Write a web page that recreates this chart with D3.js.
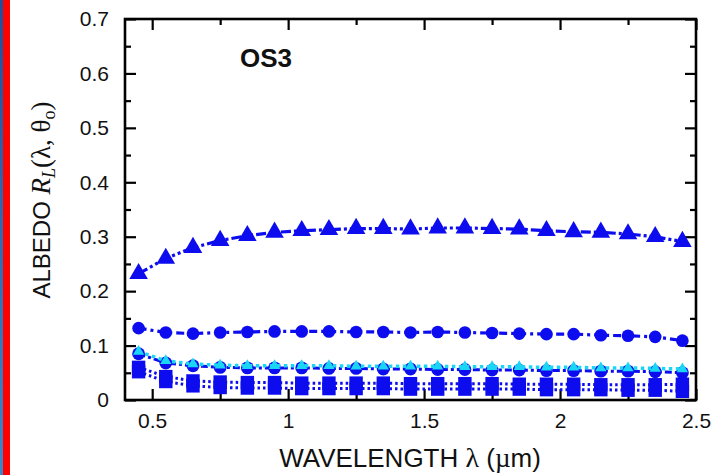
<!DOCTYPE html>
<html>
<head>
<meta charset="utf-8">
<script src="https://cdn.jsdelivr.net/npm/d3@7"></script>
<style>
  html, body { margin: 0; padding: 0; background: #fff; }
  svg { display: block; }
</style>
</head>
<body>
<svg id="chart" width="716" height="475"></svg>
<script>
// Wavelength grid (µm)
const wavelengths = [0.45, 0.55, 0.65, 0.75, 0.85, 0.95, 1.05, 1.15, 1.25, 1.35, 1.45,
                     1.55, 1.65, 1.75, 1.85, 1.95, 2.05, 2.15, 2.25, 2.35, 2.45];

// Albedo curves
const albedoTriangles = [0.232, 0.260, 0.280, 0.293, 0.302, 0.308, 0.311, 0.313, 0.315, 0.315, 0.314,
                         0.316, 0.316, 0.315, 0.314, 0.311, 0.309, 0.308, 0.305, 0.300, 0.291];
const albedoCirclesHigh = [0.132, 0.124, 0.122, 0.124, 0.125, 0.126, 0.126, 0.126, 0.125, 0.125, 0.124,
                           0.125, 0.124, 0.123, 0.122, 0.121, 0.121, 0.119, 0.118, 0.116, 0.109];
const albedoCirclesLow = [0.085, 0.068, 0.063, 0.060, 0.059, 0.059, 0.059, 0.058, 0.058, 0.057, 0.057,
                          0.056, 0.056, 0.055, 0.055, 0.054, 0.054, 0.053, 0.053, 0.052, 0.050];
const albedoCyan = [0.089, 0.072, 0.066, 0.064, 0.063, 0.063, 0.063, 0.063, 0.062, 0.062, 0.062,
                    0.062, 0.061, 0.061, 0.061, 0.060, 0.060, 0.059, 0.059, 0.058, 0.057];
const albedoSquaresHigh = [0.060, 0.043, 0.035, 0.033, 0.032, 0.032, 0.031, 0.031, 0.031, 0.031, 0.030,
                           0.030, 0.030, 0.030, 0.029, 0.029, 0.029, 0.028, 0.028, 0.028, 0.029];
const albedoSquaresLow = [0.052, 0.034, 0.026, 0.023, 0.022, 0.022, 0.021, 0.021, 0.021, 0.021, 0.020,
                          0.020, 0.020, 0.020, 0.020, 0.019, 0.019, 0.019, 0.018, 0.018, 0.016];

// Axis ticks
const xMajorTicks = [0.5, 1, 1.5, 2, 2.5];
const xMinorTicks = [0.75, 1.25, 1.75, 2.25];
const yMajorTicks = [0, 0.1, 0.2, 0.3, 0.4, 0.5, 0.6, 0.7];
const yMinorTicks = [0.05, 0.15, 0.25, 0.35, 0.45, 0.55, 0.65];

const BLUE = "#0c0cef";
const CYAN = "#1ad6f4";

const svg = d3.select("#chart");

// Decorative side strips
const grad = svg.append("defs").append("linearGradient")
  .attr("id", "edge").attr("x1", 0).attr("y1", 0).attr("x2", 0).attr("y2", 1);
grad.append("stop").attr("offset", "0%").attr("stop-color", "#1f4f9a");
grad.append("stop").attr("offset", "100%").attr("stop-color", "#3d86c6");
svg.append("rect").attr("x", 0).attr("y", 0).attr("width", 3).attr("height", 475).attr("fill", "url(#edge)");
svg.append("rect").attr("x", 3).attr("y", 0).attr("width", 7).attr("height", 475).attr("fill", "#ff0000");

const plotLeft = 125, plotRight = 696, plotTop = 19, plotBottom = 400;
const x = d3.scaleLinear().domain([0.4, 2.5]).range([plotLeft, plotRight]);
const y = d3.scaleLinear().domain([0, 0.7]).range([plotBottom, plotTop]);

const fontSans = "'Liberation Sans', Arial, Helvetica, sans-serif";
const fontSerif = "'Liberation Serif', 'Times New Roman', serif";

// Axes: ticks point inward on all four sides
function styleAxis(g) {
  g.select(".domain").remove();
  g.selectAll(".tick line").attr("stroke", "#000").attr("stroke-width", 2.2);
  g.selectAll(".tick text").attr("font-family", fontSans).attr("font-size", 21).attr("fill", "#111");
}

svg.append("g").attr("transform", `translate(0,${plotBottom})`)
  .call(d3.axisBottom(x).tickValues(xMajorTicks).tickSize(-11).tickPadding(13).tickFormat(d3.format("")))
  .call(styleAxis);
svg.append("g").attr("transform", `translate(0,${plotBottom})`)
  .call(d3.axisBottom(x).tickValues(xMinorTicks).tickSize(-6).tickFormat(""))
  .call(styleAxis);
svg.append("g").attr("transform", `translate(0,${plotTop})`)
  .call(d3.axisTop(x).tickValues(xMajorTicks).tickSize(-11).tickFormat(""))
  .call(styleAxis);
svg.append("g").attr("transform", `translate(0,${plotTop})`)
  .call(d3.axisTop(x).tickValues(xMinorTicks).tickSize(-6).tickFormat(""))
  .call(styleAxis);

svg.append("g").attr("transform", `translate(${plotLeft},0)`)
  .call(d3.axisLeft(y).tickValues(yMajorTicks).tickSize(-11).tickPadding(16).tickFormat(d3.format("")))
  .call(styleAxis);
svg.append("g").attr("transform", `translate(${plotLeft},0)`)
  .call(d3.axisLeft(y).tickValues(yMinorTicks).tickSize(-6).tickFormat(""))
  .call(styleAxis);
svg.append("g").attr("transform", `translate(${plotRight},0)`)
  .call(d3.axisRight(y).tickValues(yMajorTicks).tickSize(-11).tickFormat(""))
  .call(styleAxis);
svg.append("g").attr("transform", `translate(${plotRight},0)`)
  .call(d3.axisRight(y).tickValues(yMinorTicks).tickSize(-6).tickFormat(""))
  .call(styleAxis);

// Curves
const series = [
  { values: albedoSquaresLow,  color: BLUE, dash: "2.5,3",            width: 3,   symbol: d3.symbolSquare,   size: 180 },
  { values: albedoSquaresHigh, color: BLUE, dash: "2.5,3",            width: 3,   symbol: d3.symbolSquare,   size: 180 },
  { values: albedoCirclesLow,  color: BLUE, dash: "7,3,3,3",          width: 3,   symbol: d3.symbolCircle,   size: 130 },
  { values: albedoCyan,        color: CYAN, dash: "3.5,3.5",          width: 3.5, symbol: d3.symbolTriangle, size: 55 },
  { values: albedoCirclesHigh, color: BLUE, dash: "8,4,3,4",          width: 3.2, symbol: d3.symbolCircle,   size: 125 },
  { values: albedoTriangles,   color: BLUE, dash: "10,3,3,3,3,3",     width: 3.2, symbol: d3.symbolTriangle, size: 150 }
];

const line = d3.line().x(d => x(d[0])).y(d => y(d[1]));
const plot = svg.append("g");

series.forEach(s => {
  const pts = wavelengths.map((w, i) => [w, s.values[i]]);
  plot.append("path")
    .attr("d", line(pts))
    .attr("fill", "none")
    .attr("stroke", s.color)
    .attr("stroke-width", s.width)
    .attr("stroke-dasharray", s.dash);
  plot.selectAll(null).data(pts).enter().append("path")
    .attr("d", d3.symbol().type(s.symbol).size(s.size))
    .attr("transform", d => `translate(${x(d[0])},${y(d[1])})`)
    .attr("fill", s.color);
});

// Frame
svg.append("rect")
  .attr("x", plotLeft).attr("y", plotTop)
  .attr("width", plotRight - plotLeft).attr("height", plotBottom - plotTop)
  .attr("fill", "none").attr("stroke", "#000").attr("stroke-width", 2.6);

// Panel label
svg.append("text")
  .attr("x", 266).attr("y", 67)
  .attr("text-anchor", "middle")
  .attr("font-family", fontSans).attr("font-weight", "bold").attr("font-size", 26)
  .attr("fill", "#111")
  .text("OS3");

// X axis title
const xt = svg.append("text")
  .attr("x", 410).attr("y", 467)
  .attr("text-anchor", "middle")
  .attr("font-family", fontSans).attr("font-size", 26).attr("fill", "#111");
xt.append("tspan").text("WAVELENGTH ");
xt.append("tspan").attr("font-family", fontSerif).attr("font-size", 28).text("λ");
xt.append("tspan").text(" (");
xt.append("tspan").attr("font-family", fontSerif).attr("font-size", 27).text("µ");
xt.append("tspan").text("m)");

// Y axis title
const yt = svg.append("text")
  .attr("transform", "translate(50,200) rotate(-90)")
  .attr("text-anchor", "middle")
  .attr("font-family", fontSans).attr("font-size", 24).attr("fill", "#111");
yt.append("tspan").text("ALBEDO ");
yt.append("tspan").attr("font-family", fontSerif).attr("font-style", "italic").attr("font-size", 27).text("R");
yt.append("tspan").attr("font-family", fontSerif).attr("font-style", "italic").attr("font-size", 18).attr("dy", 5).text("L");
yt.append("tspan").attr("font-family", fontSerif).attr("font-size", 27).attr("dy", -5).text("(λ, θ");
yt.append("tspan").attr("font-family", fontSerif).attr("font-size", 18).attr("dy", 5).text("o");
yt.append("tspan").attr("font-family", fontSerif).attr("font-size", 27).attr("dy", -5).text(")");
</script>
</body>
</html>
